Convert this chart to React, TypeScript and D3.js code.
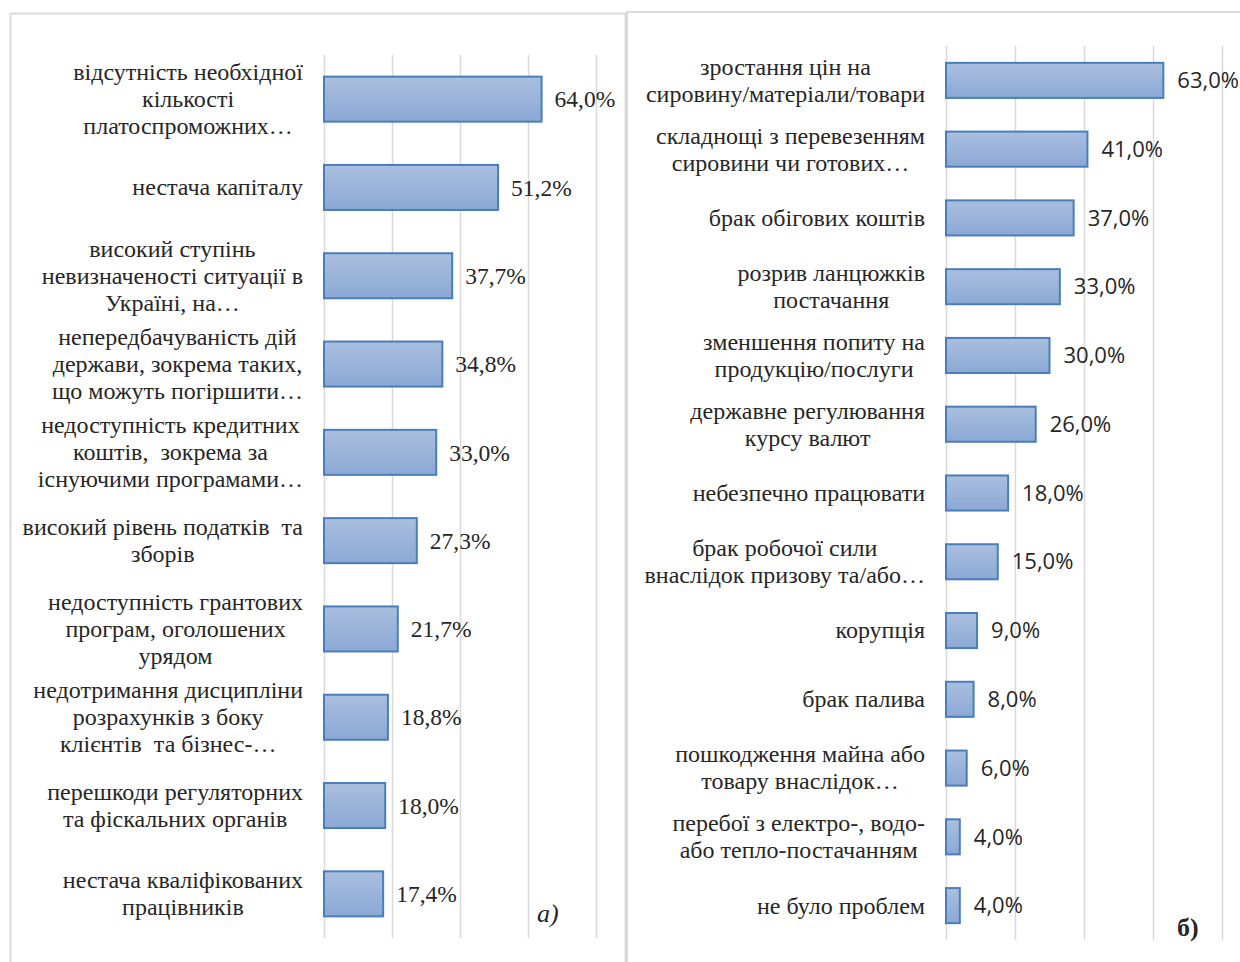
import React, { useEffect, useRef } from "react";
import * as d3 from "d3";

const leftCategories: string[][] = [
  ["відсутність необхідної", "кількості", "платоспроможних…"],
  ["нестача капіталу"],
  ["високий ступінь", "невизначеності ситуації в", "Україні, на…"],
  ["непередбачуваність дій", "держави, зокрема таких,", "що можуть погіршити…"],
  ["недоступність кредитних", "коштів,  зокрема за", "існуючими програмами…"],
  ["високий рівень податків  та", "зборів"],
  ["недоступність грантових", "програм, оголошених", "урядом"],
  ["недотримання дисципліни", "розрахунків з боку", "клієнтів  та бізнес-…"],
  ["перешкоди регуляторних", "та фіскальних органів"],
  ["нестача кваліфікованих", "працівників"],
];
const leftValues: number[] = [64.0, 51.2, 37.7, 34.8, 33.0, 27.3, 21.7, 18.8, 18.0, 17.4];

const rightCategories: string[][] = [
  ["зростання цін на", "сировину/матеріали/товари"],
  ["складнощі з перевезенням", "сировини чи готових…"],
  ["брак обігових коштів"],
  ["розрив ланцюжків", "постачання"],
  ["зменшення попиту на", "продукцію/послуги"],
  ["державне регулювання", "курсу валют"],
  ["небезпечно працювати"],
  ["брак робочої сили", "внаслідок призову та/або…"],
  ["корупція"],
  ["брак палива"],
  ["пошкодження майна або", "товару внаслідок…"],
  ["перебої з електро-, водо-", "або тепло-постачанням"],
  ["не було проблем"],
];
const rightValues: number[] = [63, 41, 37, 33, 30, 26, 18, 15, 9, 8, 6, 4, 4];

const gridTicks: number[] = [0, 20, 40, 60, 80];

const fmt = (v: number) => v.toFixed(1).replace(".", ",") + "%";

export default function App() {
  const ref = useRef<SVGSVGElement>(null);

  useEffect(() => {
    document.body.style.margin = "0";
    const svg = d3.select(ref.current);
    svg.selectAll("*").remove();

    const defs = svg.append("defs");
    const grad = defs
      .append("linearGradient")
      .attr("id", "barGrad")
      .attr("x1", 0)
      .attr("y1", 0)
      .attr("x2", 0)
      .attr("y2", 1);
    grad.append("stop").attr("offset", "0%").attr("stop-color", "#aabfdf");
    grad.append("stop").attr("offset", "100%").attr("stop-color", "#8ba8d5");

    // frames
    svg.append("rect").attr("x", 10.5).attr("y", 13.5).attr("width", 615).attr("height", 960)
      .attr("fill", "white").attr("stroke", "#d9d9d9").attr("stroke-width", 2);
    svg.append("rect").attr("x", 627).attr("y", 12).attr("width", 620).attr("height", 960)
      .attr("fill", "white").attr("stroke", "#d9d9d9").attr("stroke-width", 2);

    const labelFont = "'Liberation Serif', 'Times New Roman', serif";

    function panel(opts: {
      cats: string[][];
      vals: number[];
      x0: number;
      x1: number;
      y0: number;
      y1: number;
      labelRight: number;
      valueFont: string;
      valueSize: number;
      valueGap: number;
      labelSize: number;
    }) {
      const g = svg.append("g");
      const x = d3.scaleLinear().domain([0, 80]).range([opts.x0, opts.x1]);
      const y = d3
        .scaleBand<number>()
        .domain(opts.cats.map((_, i) => i))
        .range([opts.y0, opts.y1])
        .paddingInner(0.49)
        .paddingOuter(0.245);

      g.selectAll("line.grid")
        .data(gridTicks)
        .join("line")
        .attr("class", "grid")
        .attr("x1", (d) => Math.round(x(d)) + 0.5)
        .attr("x2", (d) => Math.round(x(d)) + 0.5)
        .attr("y1", opts.y0)
        .attr("y2", opts.y1)
        .attr("stroke", "#d9d9d9")
        .attr("stroke-width", 1.5);

      g.selectAll("rect.bar")
        .data(opts.vals)
        .join("rect")
        .attr("class", "bar")
        .attr("x", x(0))
        .attr("y", (_, i) => y(i)!)
        .attr("width", (d) => x(d) - x(0))
        .attr("height", y.bandwidth())
        .attr("fill", "url(#barGrad)")
        .attr("stroke", "#4a7ebb")
        .attr("stroke-width", 2);

      g.selectAll("text.val")
        .data(opts.vals)
        .join("text")
        .attr("class", "val")
        .attr("x", (d) => x(d) + opts.valueGap)
        .attr("y", (_, i) => y(i)! + y.bandwidth() / 2)
        .attr("dy", "0.35em")
        .attr("font-family", opts.valueFont)
        .attr("font-size", opts.valueSize)
        .attr("fill", "#262626")
        .text((d) => fmt(d));

      const lineH = 27;
      opts.cats.forEach((lines, i) => {
        const cy = y(i)! + y.bandwidth() / 2;
        const t = g
          .append("text")
          .attr("font-family", labelFont)
          .attr("font-size", opts.labelSize)
          .attr("fill", "#262626")
          .attr("text-anchor", "middle");
        const spans = lines.map((ln, j) =>
          t
            .append("tspan")
            .attr("y", cy + (j - (lines.length - 1) / 2) * lineH)
            .attr("dy", "0.33em")
            .attr("xml:space", "preserve")
            .text(ln)
        );
        const widths = spans.map((s) => (s.node() as SVGTSpanElement).getComputedTextLength());
        const maxW = Math.max(...widths);
        const cx = opts.labelRight - maxW / 2;
        spans.forEach((s) => s.attr("x", cx));
      });
    }

    panel({
      cats: leftCategories,
      vals: leftValues,
      x0: 324,
      x1: 596,
      y0: 55,
      y1: 938,
      labelRight: 303,
      valueFont: labelFont,
      valueSize: 23.5,
      valueGap: 13,
      labelSize: 24,
    });
    panel({
      cats: rightCategories,
      vals: rightValues,
      x0: 946,
      x1: 1222,
      y0: 46,
      y1: 940,
      labelRight: 925,
      valueFont: "'Open Sans', 'Liberation Sans', sans-serif",
      valueSize: 22,
      valueGap: 14,
      labelSize: 24,
    });

    svg.append("text").attr("x", 537).attr("y", 922)
      .attr("font-family", labelFont).attr("font-style", "italic").attr("font-size", 26)
      .attr("fill", "#262626").text("а)");
    svg.append("text").attr("x", 1177).attr("y", 936)
      .attr("font-family", labelFont).attr("font-weight", "bold").attr("font-size", 26)
      .attr("fill", "#262626").text("б)");
  }, []);

  return <svg ref={ref} width={1240} height={962} style={{ display: "block", background: "white" }} />;
}
